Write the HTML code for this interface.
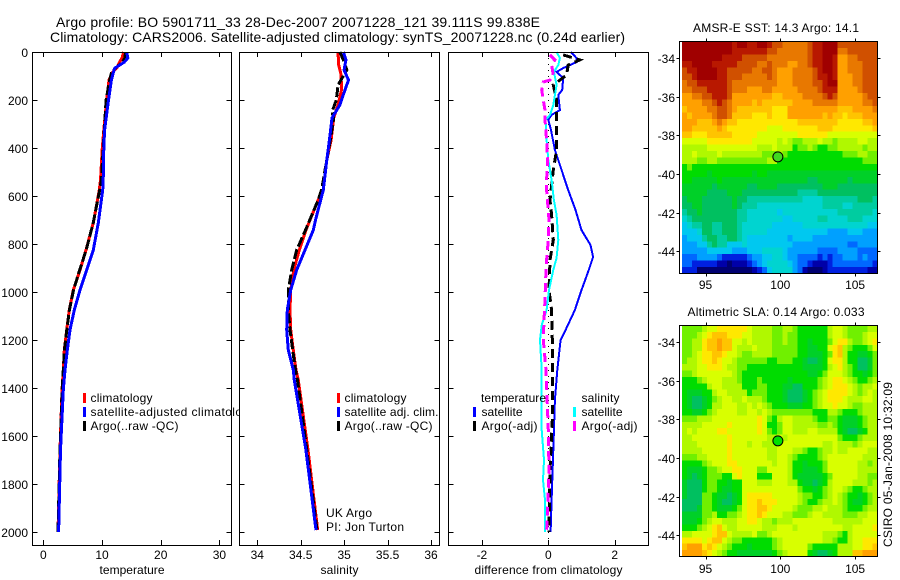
<!DOCTYPE html>
<html>
<head>
<meta charset="utf-8">
<title>Argo profile</title>
<style>
html,body{margin:0;padding:0;background:#fff;}
svg{display:block;}
text{font-family:"Liberation Sans",sans-serif;fill:#000;}
</style>
</head>
<body>
<svg id="chart" xmlns="http://www.w3.org/2000/svg" width="900" height="580" viewBox="0 0 900 580"></svg>
<script>
var tempClimDepth=[0,25,42,67,87,117,200,325,400,533,575,712,825,908,992,1075,1158,1242,1325,1408,1658,2000];
var tempClim=[13.7,13.4,13,12.5,11.7,11.2,10.8,10.3,10.05,9.75,9.54,8.52,7.27,6.25,5.11,4.43,3.99,3.58,3.41,3.19,2.85,2.5];
var tempSat=[14.2,14.4,13.8,12.2,11.9,11.6,11.1,10.45,10.3,10.2,10.12,9.37,8.52,7.39,6.25,5.28,4.55,4.09,3.7,3.41,2.93,2.6];
var tempArgo=[14.0,13.9,13.5,12.3,11.6,11.3,10.7,10.4,10.2,9.9,9.6,8.5,7.3,6.2,5.15,4.45,4.0,3.6,3.4,3.2,2.85,2.5];

var salClimDepth=[0,50,96,158,221,275,367,450,575,617,742,825,908,992,1075,1158,1242,1325,1367,1658,1992];
var salClim=[34.93,34.935,34.965,34.97,34.93,34.88,34.85,34.80,34.76,34.70,34.56,34.484,34.42,34.385,34.377,34.385,34.415,34.446,34.472,34.584,34.695];
var salSatDepth=[0,33,75,117,158,221,275,367,450,575,700,742,825,908,992,1075,1158,1242,1325,1367,1658,1992];
var salSat=[34.99,35.02,35.0,35.05,35.01,34.95,34.86,34.83,34.80,34.76,34.67,34.645,34.549,34.454,34.385,34.345,34.339,34.357,34.415,34.426,34.56,34.676];
var salArgoDepth=[0,33,75,137,200,250,275,367,450,575,617,742,825,908,992,1075,1158,1242,1325,1367,1658,1992];
var salArgo=[34.95,34.99,35.03,34.93,34.91,34.86,34.88,34.84,34.80,34.74,34.70,34.555,34.454,34.396,34.357,34.357,34.377,34.408,34.44,34.463,34.57,34.687];

var diffTempSatDepth=[0,25,42,67,83,96,108,158,179,242,262,283,325,408,492,575,658,742,804,854,908,992,1075,1158,1200,1325,1450,1658,1867,2000];
var diffTempSat=[0.68,0.85,0.85,0.45,0.25,0.35,0.45,0.42,0.3,0.35,0.1,0,0.08,0.2,0.4,0.6,0.82,1.0,1.27,1.35,1.22,1.0,0.8,0.52,0.37,0.27,0.2,0.15,0.1,0.07];
var diffTempArgoDepth=[12,33,54,96,117,137,200,304,408,492,617,679,783,867,992,1075,1200,1325,1533,1742,2000];
var diffTempArgo=[0.45,0.95,0.6,0.55,0.35,0.15,0.25,0.25,0.25,0.15,0.05,0.1,0.15,0.05,0.02,0.1,0.12,0.12,0.12,0.05,0.02];
var diffSalSatDepth=[0,25,54,83,137,221,262,283,367,450,533,617,679,783,858,908,992,1075,1138,1200,1325,1575,1700,1783,1867,2000];
var diffSalSat=[0.25,0.35,0.3,0.17,0.25,0.15,0.05,-0.08,-0.05,0,0.1,0.17,0.25,0.3,0.25,0.15,0.02,-0.05,-0.2,-0.25,-0.2,-0.2,-0.13,-0.16,-0.1,-0.1];
var diffSalArgoDepth=[12,33,54,96,117,125,158,200,242,283,367,450,533,575,700,783,867,950,1033,1117,1200,1325,1575,1742,2000];
var diffSalArgo=[0.05,0.2,0.1,0.15,0.05,-0.15,-0.2,-0.15,-0.1,-0.1,-0.05,-0.02,-0.05,-0.05,0.02,0,-0.05,-0.08,-0.1,-0.13,-0.15,-0.07,0,0.02,-0.05];

var depthTicks=[0,200,400,600,800,1000,1200,1400,1600,1800,2000];
var tempTicks=[0,10,20,30];
var salTicks=[34,34.5,35,35.5,36];
var diffTicks=[-2,0,2];
var lonTicks=[95,100,105];
var latTicks=[-34,-36,-38,-40,-42,-44];
var profileLon=[99.838];
var profileLat=[-39.111];

var levelKeys="0123456789abcdefghijk";
var levelColors=["#000070","#0000a8","#0020e0","#0068ff","#00a0ff","#00c8f0","#00d4d0","#00cca0","#00c060","#00d028","#00dc00","#70f000","#b0f800","#d8ff00","#ffe800","#ffc400","#ffa000","#e87800","#d05000","#b81800","#a00000"];

var sstRows=[
"kkkkkkkkkk jkkjjkkjii hhhhhijjkk kiiiiiiii",
"kkkkkkkkkk jjjjjjjiih hhhhhijjkk khhiiiiii",
"kkkkkkkkjj jjiiiiihhh hhhhhijjkk jgghhiiii",
"jjkkkkjjjj jiiiihhihh hgghhijjkk jgghhhiii",
"ijjkkkkjji iiiihhiihg gghhhhijkk jgghhhiii",
"iijkkkkjji iihhhhhihg gghhhhijjk jggghhiii",
"hiijjjjjji hhhhhhhhhg gghhhhiijk kggghhiii",
"hhiiijjjji hhhggghhgg ggghhhhijj jgggghiii",
"gghhiijjji ggggggggff gggghhhhij iggggghii",
"gggghhijih ggggfgffff ffgggghhhh hggggghhi",
"fgggghhiih gfffffffee eggggggggg gfffggggh",
"gfgggghiih ffffeeefee egggggggfg ffefffggg",
"gggfffghgf feeeeeeeee eeefffffff feeeeeffg",
"ggfffffgfe eeeeeeeddd eeeeeeefff eeeeeeeef",
"ffeeefffff eeeeeddddd dddeeeeeed ddddddddd",
"dddddeeeee eeeedddddc dcbbcccdcc bccccddcc",
"cccccddddd dddddcccdc ccabbcbaab bcccccbcc",
"ccdccccdcc ccccccbbbc baaaaaaaaa aabbbccbb",
"cccbbccbbb bbbbbbbcca aaaaaaaaaa aaaaaabbb",
"abaaaaaaaa aaaaaaaaaa aaaaaaaaaa aaaaaaaaa",
"aaaaa9aaaa aaaa9aa999 9999999999 999999999",
"aa99999a99 9999999999 9999988999 999899999",
"9999998999 9998899998 8888888899 988888888",
"9999988889 9988888888 8887777888 888888888",
"8999888888 9887777777 7777666677 777778887",
"8899888888 9877766666 6666666677 776677777",
"7889888888 8776666665 6666666666 677777776",
"6788888888 8776666666 5566666776 666777666",
"5677887788 8766666655 5555666666 666666655",
"5556887788 8766666555 5555555554 444555444",
"4555788778 8765555555 5455554444 444444444",
"4445578775 5565555555 5544444444 444334444",
"4444455555 4445556666 5444444333 344443333",
"3334444322 2223445566 5443333232 334443433",
"3322222110 1112345666 6543321112 333333332",
"2220000000 0000123566 6643100012 222222211"
];

var slaRows=[
"bbbbcddeee eeedccccbb ccbaaaaaac ddcbbbbcc",
"bbbcdefffe eeddccccbb cbbaaaaaac ddcbbbcdd",
"bbcceffgff ddcdccccbb cbbaa9aaab deecbbcde",
"bbcceffgff dcccdcccbb bbbaa99aad efcbaaabd",
"bbcdeeffed dcbbccccbb bbbaa999ab efcaa99ab",
"bccdeefedd cbbbbbbaab bbaa9889ad eecaa889b",
"cccddeeedc cbbaaaaaaa aaaa9999ac decba889b",
"bbcddddddd cbaaaaaaaa aaaaa99abd ddcbaa9ab",
"aaabcdddcc cbaaabaaaa a9aaaaabcd eedcbaabc",
"aaaaacddcc ccaaabbaaa 9988aaabcd eeedcbccd",
"a999aacddc cccabbbaaa 98889abcde eeedcbcdc",
"a9889abcdd ccdcccbaaa 98889abcde eedcccddc",
"a9889accdd dccdcdcbaa a999aabcdd eddcbbccc",
"aa99abcddd dccddcdcbb bbbbbbaaac cbaaabccc",
"bbbcccdddd dddddedbac ddccccbaab ba999abcc",
"ccccddddde dddddedaab ddcccccbbc ba999abcc",
"cdcddddeed dddddedbab ddcccddccc ca9889acc",
"ccddddddde dddddddccd cddddddddd dbaaabccc",
"cccdddddde dddcddcccd ddddddddcc dcccbcddd",
"ccccddddde dddddddccd ddccbaabcc dccddddcc",
"bbbccdddde dddddddccd dcbaaaabcd ddddddccc",
"aaaabcddde edddddddcd dcaa9aaabd dddddccbc",
"a999abbcdd eedddbbddd dcaa999abd dddddcccc",
"a989abbbaa dedddaaadd dca99999ab dddddccbb",
"9888abbaa9 aadddcccdd dcca9989ac ddddcccbc",
"9888abba99 aadddddddd dddbaa9abc ddcbaabcc",
"9888bba998 9adeeeeedd dddcbbaabc dcbaa9abc",
"8888bba988 9adeefeeed dddcbaabcc dcba99abc",
"8889bba999 abdeeffedd ddcbbbccdc ccbaaabcc",
"9999bbcaab bcdeefeddd ccbbbcddcc ccbbbccdd",
"999abcddcc cddeedccbc ccdddddddd ccccccddd",
"aaabcdefdc cdddddcccd ddcddddddd ddccdddde",
"ccddddeffd ccccdbbcdd ddddddddcc cbacddddd",
"eeeedeffdc bbaaaaaabc ddddddddcc baacddeee",
"fgggefedcb aaa9aaaabc dddddbaaaa acccddeef",
"ggggfedcba a9999999ab cdddda9889 acccffggg"
];

var NS="http://www.w3.org/2000/svg";
var root=document.getElementById("chart");

function mk(parent,tag,attrs,content){
  var el=document.createElementNS(NS,tag);
  for(var k in attrs){el.setAttribute(k,attrs[k]);}
  if(content!==undefined){el.textContent=content;}
  parent.appendChild(el);
  
  return el;
}
function label(parent,name,x,y,str,size,anchor,len){
  var a={x:x,y:y,"font-size":size||12,"text-anchor":anchor||"start"};
  if(len){a.textLength=len;a.lengthAdjust="spacing";}
  var t=mk(parent,"text",a,str);
  
  return t;
}

/* depth axis shared by the three profile panels */
function yDepth(d){return 52+0.24*d;}
var panelTop=52,panelBottom=545;

function xTemp(v){return 43.3+5.87*v;}
function xSal(v){return 257.3+86.85*(v-34);}
function xDiff(v){return 548.3+33.2*v;}

function drawPanel(name,left,right,xFn,xTicks,xTitle,titleLen,showDepth){
  var g=mk(root,"g",{});
  
  var bg=mk(g,"rect",{x:left,y:panelTop,width:right-left,height:panelBottom-panelTop,fill:"#fff"});
  
  var ticks=mk(g,"g",{stroke:"#000","stroke-width":1,"shape-rendering":"crispEdges"});
  
  xTicks.forEach(function(v){
    var x=Math.round(xFn(v))+0.5;
    var t1=mk(ticks,"line",{x1:x,x2:x,y1:panelTop,y2:panelTop+5});
    
    var t2=mk(ticks,"line",{x1:x,x2:x,y1:panelBottom,y2:panelBottom-5});
    
    var lab=label(g,"x-tick-label",xFn(v),559,String(v),12,"middle");
  });
  depthTicks.forEach(function(d){
    var y=Math.round(yDepth(d))+0.5;
    var t1=mk(ticks,"line",{x1:left,x2:left+5,y1:y,y2:y});
    
    var t2=mk(ticks,"line",{x1:right,x2:right-5,y1:y,y2:y});
    
    if(showDepth){
      label(g,"y-tick-label",28,y+4.5,String(d),12,"end");
    }
  });
  label(g,"x-axis-title",(left+right)/2,574,xTitle,12,"middle",titleLen);
  return g;
}
function frame(g,name,left,top,right,bottom){
  var f=mk(g,"rect",{x:left,y:top,width:right-left,height:bottom-top,fill:"none",stroke:"#000","stroke-width":1,"shape-rendering":"crispEdges"});
  
}
function line(g,name,depths,vals,xFn,color,width,dash){
  var pts=vals.map(function(v,i){return xFn(v).toFixed(1)+","+yDepth(depths[i]).toFixed(1);}).join(" ");
  var a={points:pts,fill:"none",stroke:color,"stroke-width":width||2,"stroke-linejoin":"miter","shape-rendering":"crispEdges"};
  if(dash){a["stroke-dasharray"]=dash;}
  var p=mk(g,"polyline",a);
  
}
function legendBar(g,name,x,y,color){
  var r=mk(g,"rect",{x:x,y:y,width:3,height:10,fill:color});
  
}

/* titles */
label(root,"figure-title-line-1",56,27,"Argo profile: BO 5901711_33 28-Dec-2007 20071228_121 39.111S 99.838E",14,"start",484);
label(root,"figure-title-line-2",50,42,"Climatology: CARS2006. Satellite-adjusted climatology: synTS_20071228.nc (0.24d earlier)",14,"start",575);

/* temperature panel */
var p1=drawPanel("temperature-panel",32.5,231.5,xTemp,tempTicks,"temperature",65,true);
line(p1,"temperature-climatology-line",tempClimDepth,tempClim,xTemp,"#ff0000",3);
line(p1,"temperature-argo-line",tempClimDepth,tempArgo,xTemp,"#000000",3,"10,3");
line(p1,"temperature-satellite-line",tempClimDepth,tempSat,xTemp,"#0000ff",3);
legendBar(p1,"legend-bar-climatology",83,393,"#ff0000");
legendBar(p1,"legend-bar-satellite",83,407,"#0000ff");
legendBar(p1,"legend-bar-argo",83,421,"#000000");
label(p1,"legend-entry-climatology",90.5,402,"climatology",12,"start",62);
label(p1,"legend-entry-satellite",90.5,416,"satellite-adjusted climatology",12,"start",165);
label(p1,"legend-entry-argo",90.5,430,"Argo(..raw -QC)",12,"start",88);
frame(p1,"temperature-panel-frame",32.5,52.5,231.5,545.5);

/* salinity panel */
var p2=drawPanel("salinity-panel",239.5,439.5,xSal,salTicks,"salinity",38,false);
line(p2,"salinity-climatology-line",salClimDepth,salClim,xSal,"#ff0000",3);
line(p2,"salinity-argo-line",salArgoDepth,salArgo,xSal,"#000000",3,"10,3");
line(p2,"salinity-satellite-line",salSatDepth,salSat,xSal,"#0000ff",3);
legendBar(p2,"legend-bar-climatology",337,393,"#ff0000");
legendBar(p2,"legend-bar-satellite",337,407,"#0000ff");
legendBar(p2,"legend-bar-argo",337,421,"#000000");
label(p2,"legend-entry-climatology",344.5,402,"climatology",12,"start",62);
label(p2,"legend-entry-satellite",344.5,416,"satellite adj. clim.",12,"start",94);
label(p2,"legend-entry-argo",344.5,430,"Argo(..raw -QC)",12,"start",88);
label(p2,"credit-uk-argo",326,517,"UK Argo",12,"start",46);
label(p2,"credit-pi-name",326,531,"PI: Jon Turton",12,"start",78);
frame(p2,"salinity-panel-frame",239.5,52.5,439.5,545.5);

/* difference panel */
var p3=drawPanel("difference-panel",448.5,648.5,xDiff,diffTicks,"difference from climatology",148,false);
var zero=mk(p3,"line",{x1:548.5,x2:548.5,y1:panelTop,y2:panelBottom,stroke:"#000","stroke-width":1,"stroke-dasharray":"1,5","shape-rendering":"crispEdges"});

line(p3,"difference-temperature-satellite-line",diffTempSatDepth,diffTempSat,xDiff,"#0000ff",2);
line(p3,"difference-temperature-argo-line",diffTempArgoDepth,diffTempArgo,xDiff,"#000000",3,"9,5");
line(p3,"difference-salinity-satellite-line",diffSalSatDepth,diffSalSat,xDiff,"#00ffff",2);
line(p3,"difference-salinity-argo-line",diffSalArgoDepth,diffSalArgo,xDiff,"#ff00ff",3,"9,5");
label(p3,"legend-heading-temperature",481,402,"temperature",12,"start",65);
legendBar(p3,"legend-bar-temperature-satellite",473,407,"#0000ff");
legendBar(p3,"legend-bar-temperature-argo",473,421,"#000000");
label(p3,"legend-entry-temperature-satellite",481.5,416,"satellite",12,"start",41);
label(p3,"legend-entry-temperature-argo",481.5,430,"Argo(-adj)",12,"start",56);
label(p3,"legend-heading-salinity",581.5,402,"salinity",12,"start",38);
legendBar(p3,"legend-bar-salinity-satellite",573,407,"#00ffff");
legendBar(p3,"legend-bar-salinity-argo",573,421,"#ff00ff");
label(p3,"legend-entry-salinity-satellite",581.5,416,"satellite",12,"start",41);
label(p3,"legend-entry-salinity-argo",581.5,430,"Argo(-adj)",12,"start",56);
frame(p3,"difference-panel-frame",448.5,52.5,648.5,545.5);

/* maps */
function drawMap(name,rows,top,bottom,lat34,title,titleLen,titleY,labelY,markerFill){
  var left=679.5,right=877.5,dataLeft=682;
  var xLon=function(lon){return 780.3+14.96*(lon-100);};
  var yLat=function(lat){return lat34+19.28*(-34-lat);};
  var g=mk(root,"g",{});
  
  label(g,"map-title",776,titleY,title,12,"middle",titleLen);
  var cells=mk(g,"g",{"shape-rendering":"crispEdges"});
  
  var h=(bottom-top)/rows.length;
  rows.forEach(function(raw,r){
    var row=raw.replace(/ /g,"");
    var w=(right-dataLeft)/row.length;
    for(var c=0;c<row.length;c++){
      var rect=mk(cells,"rect",{x:(dataLeft+c*w).toFixed(2),y:(top+r*h).toFixed(2),width:(w+0.6).toFixed(2),height:(h+0.6).toFixed(2),fill:levelColors[levelKeys.indexOf(row.charAt(c))]});
      
    }
  });
  var f=mk(g,"g",{stroke:"#000","stroke-width":1,"shape-rendering":"crispEdges"});
  
  lonTicks.forEach(function(v){
    var x=Math.round(xLon(v))+0.5;
    var t1=mk(f,"line",{x1:x,x2:x,y1:top,y2:top-3});
    
    var t2=mk(f,"line",{x1:x,x2:x,y1:bottom,y2:bottom+3});
    
    label(g,"lon-tick-label",xLon(v),labelY,String(v),12,"middle");
  });
  latTicks.forEach(function(v){
    var y=Math.round(yLat(v))+0.5;
    var t1=mk(f,"line",{x1:left,x2:left-3,y1:y,y2:y});
    
    var t2=mk(f,"line",{x1:right,x2:right+3,y1:y,y2:y});
    
    label(g,"lat-tick-label",675,y+4.5,String(v),12,"end");
  });
  frame(g,name+"-frame",left,top,right,bottom);
  var m=mk(g,"circle",{cx:xLon(profileLon[0]),cy:yLat(profileLat[0]),r:5,fill:markerFill,stroke:"#000","stroke-width":1});
  
}
drawMap("sst-map",sstRows,41.5,273.5,58.3,"AMSR-E SST: 14.3 Argo: 14.1",166,32,289,"#40d820");
drawMap("sla-map",slaRows,325.5,556.5,342.3,"Altimetric SLA: 0.14 Argo: 0.033",177,316,573,"#00e000");

var stamp=label(root,"csiro-timestamp",0,0,"CSIRO 05-Jan-2008 10:32:09",12,"middle",165);
stamp.setAttribute("transform","translate(892,464.5) rotate(-90)");
</script>
</body>
</html>
